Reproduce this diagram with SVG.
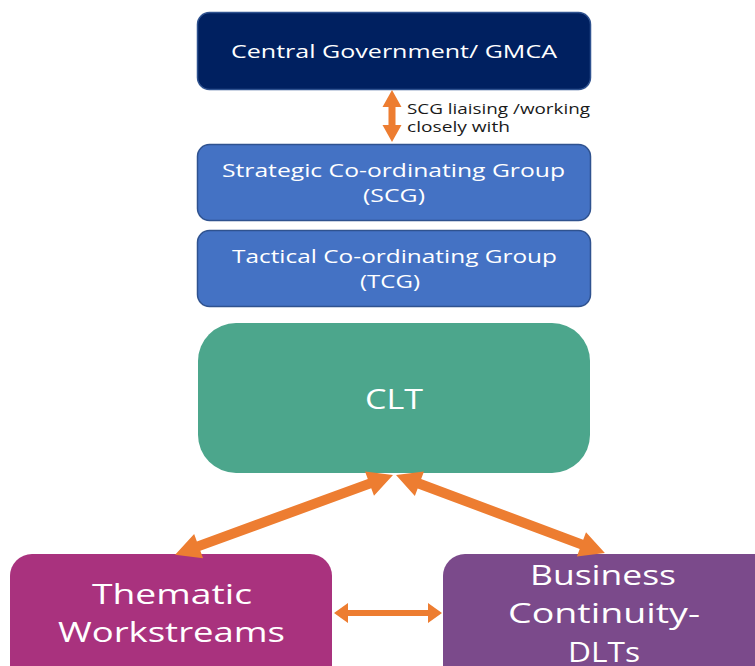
<svg xmlns="http://www.w3.org/2000/svg" width="755" height="666" viewBox="0 0 755 666">
<style>
.t{font-family:"Open Sans","Noto Sans","DejaVu Sans",sans-serif;fill:#ffffff;text-anchor:middle}
.lbl{font-family:"Open Sans","Noto Sans","DejaVu Sans",sans-serif;fill:#1a1a1a;font-size:14px}
.con{fill:#ED7D31}
</style>
<rect width="755" height="666" fill="#ffffff"/>
<g id="central">
<rect x="197.5" y="12.5" width="393" height="77" rx="12" fill="#002060" stroke="#2F528F" stroke-width="1.5"/>
<text class="t" x="394" y="58" font-size="18.5" textLength="326" lengthAdjust="spacingAndGlyphs">Central Government/ GMCA</text>
</g>
<g id="scg">
<rect x="197.5" y="144.5" width="393" height="76" rx="12" fill="#4472C4" stroke="#2F528F" stroke-width="1.5"/>
<text class="t" x="393.5" y="177" font-size="18" textLength="343" lengthAdjust="spacingAndGlyphs">Strategic Co-ordinating Group</text>
<text class="t" x="394" y="202" font-size="18" textLength="62" lengthAdjust="spacingAndGlyphs">(SCG)</text>
</g>
<g id="tcg">
<rect x="197.5" y="230.5" width="393" height="76" rx="12" fill="#4472C4" stroke="#2F528F" stroke-width="1.5"/>
<text class="t" x="394.5" y="263" font-size="18" textLength="325" lengthAdjust="spacingAndGlyphs">Tactical Co-ordinating Group</text>
<text class="t" x="390" y="288" font-size="18" textLength="60" lengthAdjust="spacingAndGlyphs">(TCG)</text>
</g>
<g id="clt">
<rect x="198" y="323" width="392" height="150" rx="38" fill="#4CA68C"/>
<text class="t" x="394" y="409" font-size="27" textLength="58" lengthAdjust="spacingAndGlyphs">CLT</text>
</g>
<g id="thematic">
<rect x="10" y="554" width="322" height="140" rx="22" fill="#A9327E"/>
<text class="t" x="172" y="604" font-size="27" textLength="160" lengthAdjust="spacingAndGlyphs">Thematic</text>
<text class="t" x="171.5" y="642" font-size="27" textLength="227" lengthAdjust="spacingAndGlyphs">Workstreams</text>
</g>
<g id="business">
<rect x="443" y="554" width="340" height="140" rx="22" fill="#7B4A8B"/>
<text class="t" x="603" y="585" font-size="27" textLength="146" lengthAdjust="spacingAndGlyphs">Business</text>
<text class="t" x="604" y="623" font-size="27" textLength="192" lengthAdjust="spacingAndGlyphs">Continuity-</text>
<text class="t" x="604" y="662" font-size="27" textLength="72" lengthAdjust="spacingAndGlyphs">DLTs</text>
</g>
<g id="connectors">
<g class="con">
<polygon points="392,90 401.5,107 395.5,107 395.5,125 401.5,125 392,142 382.5,125 388.5,125 388.5,107 382.5,107"/>
</g>
<text class="lbl" x="407" y="114" textLength="183" lengthAdjust="spacingAndGlyphs">SCG liaising /working</text>
<text class="lbl" x="407" y="132" textLength="103" lengthAdjust="spacingAndGlyphs">closely with</text>
<g class="con">
<polygon transform="translate(393,475) rotate(69.9)" points="0,0 13,25 5,25 5,207 13,207 0,232 -13,207 -5,207 -5,25 -13,25"/>
<polygon transform="translate(396,475) rotate(-69.5)" points="0,0 13,25 5,25 5,198 13,198 0,223 -13,198 -5,198 -5,25 -13,25"/>
<polygon points="334,613 348,603 348,610 428,610 428,603 442,613 428,623 428,616 348,616 348,623"/>
</g>
</g>
</svg>
